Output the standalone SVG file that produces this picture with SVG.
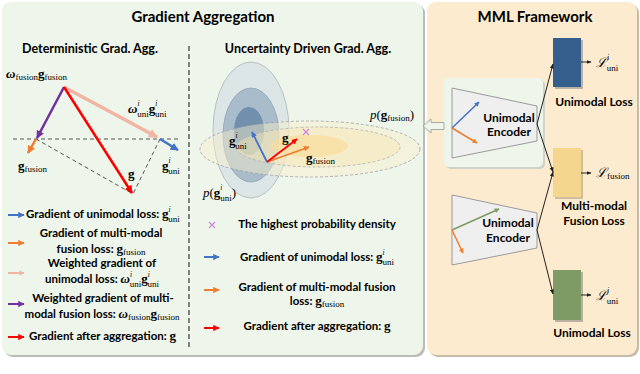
<svg xmlns="http://www.w3.org/2000/svg" width="640" height="374" viewBox="0 0 640 374">
<style>
.t{font-family:Lato,'Liberation Sans',sans-serif;font-weight:700;fill:#000}
.h1{font-size:15px}
.h2{font-size:12.5px}
.lg{font-size:11.5px}
.rl{font-size:12px}
.m{font-family:'Liberation Serif',serif;fill:#000}
.mb{font-family:'Liberation Serif',serif;font-weight:700;font-size:13px}
.mw{font-family:'Liberation Serif',serif;font-weight:700;font-style:italic;font-size:13px}
.sup{font-family:'Liberation Serif',serif;font-style:italic;font-weight:400;font-size:7.5px}
.sub{font-family:'Liberation Serif',serif;font-weight:400;font-size:9px}
.cal{font-family:'DejaVu Serif','Liberation Serif',serif;font-style:italic;font-weight:400;font-size:13px}
.dash{stroke:#555;stroke-width:1;stroke-dasharray:4 3;fill:none}
.trap{fill:#efefef;stroke:#9a9a9a;stroke-width:1}
.blk{stroke:#222;stroke-width:1;fill:none}
</style>
<defs>
<marker id="mBlue" viewBox="0 0 10 10" refX="9" refY="5" markerWidth="3.2" markerHeight="3.2" orient="auto"><path d="M0,0 L10,5 L0,10 z" fill="#4472c4"/></marker>
<marker id="mOrange" viewBox="0 0 10 10" refX="9" refY="5" markerWidth="3.2" markerHeight="3.2" orient="auto"><path d="M0,0 L10,5 L0,10 z" fill="#ed7d31"/></marker>
<marker id="mRed" viewBox="0 0 10 10" refX="9" refY="5" markerWidth="3.2" markerHeight="3.2" orient="auto"><path d="M0,0 L10,5 L0,10 z" fill="#ff0000"/></marker>
<marker id="mPurple" viewBox="0 0 10 10" refX="9" refY="5" markerWidth="3.2" markerHeight="3.2" orient="auto"><path d="M0,0 L10,5 L0,10 z" fill="#7030a0"/></marker>
<marker id="mPink" viewBox="0 0 10 10" refX="9" refY="5" markerWidth="2.6" markerHeight="2.6" orient="auto"><path d="M0,0 L10,5 L0,10 z" fill="#f4b4a4"/></marker>
<marker id="mGreen" viewBox="0 0 10 10" refX="9" refY="5" markerWidth="3.2" markerHeight="3.2" orient="auto"><path d="M0,0 L10,5 L0,10 z" fill="#7f9a65"/></marker>
<marker id="mBlk" viewBox="0 0 10 10" refX="9" refY="5" markerWidth="5" markerHeight="5" orient="auto"><path d="M0,1 L10,5 L0,9 z" fill="#222"/></marker>
</defs>

<!-- panels -->
<g id="panel-left">
<rect x="4" y="4" width="421" height="353" rx="9" fill="#b9bdb6"/>
<rect x="2" y="2" width="421" height="353" rx="9" fill="#eef5ea"/>
</g>
<g id="panel-right">
<rect x="429" y="4" width="210" height="353" rx="9" fill="#c6bba9"/>
<rect x="427" y="2" width="210" height="353" rx="9" fill="#fdebcf"/>
</g>

<text class="t h1" x="203" y="22" text-anchor="middle">Gradient Aggregation</text>
<text class="t h1" x="535" y="22" text-anchor="middle">MML Framework</text>
<text class="t h2" x="90" y="53" text-anchor="middle">Deterministic Grad. Agg.</text>
<text class="t h2" x="308" y="53" text-anchor="middle">Uncertainty Driven Grad. Agg.</text>

<line x1="189" y1="46" x2="189" y2="350" stroke="#333" stroke-width="1.2" stroke-dasharray="5 3"/>

<!-- deterministic diagram -->
<g id="det-diagram">
<line class="dash" x1="13" y1="139" x2="181" y2="139"/>
<line class="dash" x1="36" y1="139" x2="133" y2="194"/>
<line class="dash" x1="160" y1="139" x2="133" y2="194"/>
<line x1="64" y1="87" x2="157" y2="137" stroke="#f4b4a4" stroke-width="3.5" marker-end="url(#mPink)"/>
<line x1="64" y1="87" x2="37" y2="138" stroke="#7030a0" stroke-width="2.5" marker-end="url(#mPurple)"/>
<line x1="36" y1="139" x2="28" y2="153" stroke="#ed7d31" stroke-width="2.5" marker-end="url(#mOrange)"/>
<line x1="160" y1="139" x2="178" y2="150" stroke="#4472c4" stroke-width="2.5" marker-end="url(#mBlue)"/>
<line x1="64" y1="87" x2="132" y2="193" stroke="#ff0000" stroke-width="2.5" marker-end="url(#mRed)"/>
<text x="6" y="78"><tspan class="mw">ω</tspan><tspan class="sub" dy="2">fusion</tspan><tspan class="mb" dy="-2">g</tspan><tspan class="sub" dy="2">fusion</tspan></text>
<text x="128" y="113"><tspan class="mw">ω</tspan><tspan class="sup" dy="-7">i</tspan><tspan class="sub" dx="-2.3" dy="10.5">uni</tspan><tspan class="mb" dy="-3.5">g</tspan><tspan class="sup" dy="-7">i</tspan><tspan class="sub" dx="-2.3" dy="10.5">uni</tspan></text>
<text x="18" y="170"><tspan class="mb">g</tspan><tspan class="sub" dy="2">fusion</tspan></text>
<text x="162" y="170"><tspan class="mb">g</tspan><tspan class="sup" dy="-7">i</tspan><tspan class="sub" dx="-2.3" dy="10.5">uni</tspan></text>
<text x="128" y="178" class="mb">g</text>
</g>

<!-- deterministic legend -->
<g id="det-legend">
<line x1="8" y1="215" x2="24" y2="215" stroke="#4472c4" stroke-width="2" marker-end="url(#mBlue)"/>
<text class="t lg" x="26" y="218">Gradient of unimodal loss: <tspan class="mb" font-size="12">g</tspan><tspan class="sup" dy="-6.5">i</tspan><tspan class="sub" dx="-2.3" dy="10">uni</tspan></text>
<line x1="8" y1="243" x2="24" y2="243" stroke="#ed7d31" stroke-width="2" marker-end="url(#mOrange)"/>
<text class="t lg" x="101" y="237" text-anchor="middle">Gradient of multi-modal</text>
<text class="t lg" x="101" y="253" text-anchor="middle">fusion loss: <tspan class="mb" font-size="12">g</tspan><tspan class="sub" dy="2">fusion</tspan></text>
<line x1="8" y1="273" x2="24" y2="273" stroke="#f4b4a4" stroke-width="2" marker-end="url(#mPink)"/>
<text class="t lg" x="102" y="267" text-anchor="middle">Weighted gradient of</text>
<text class="t lg" x="102" y="283" text-anchor="middle">unimodal loss: <tspan class="mw" font-size="12">ω</tspan><tspan class="sup" dy="-6.5">i</tspan><tspan class="sub" dx="-2.3" dy="10">uni</tspan><tspan class="mb" font-size="12" dy="-3.5">g</tspan><tspan class="sup" dy="-6.5">i</tspan><tspan class="sub" dx="-2.3" dy="10">uni</tspan></text>
<line x1="8" y1="304" x2="24" y2="304" stroke="#7030a0" stroke-width="2" marker-end="url(#mPurple)"/>
<text class="t lg" x="103" y="302" text-anchor="middle">Weighted gradient of multi-</text>
<text class="t lg" x="102" y="318" text-anchor="middle">modal fusion loss: <tspan class="mw" font-size="12">ω</tspan><tspan class="sub" dy="2">fusion</tspan><tspan class="mb" font-size="12" dy="-2">g</tspan><tspan class="sub" dy="2">fusion</tspan></text>
<line x1="8" y1="337" x2="24" y2="337" stroke="#ff0000" stroke-width="2" marker-end="url(#mRed)"/>
<text class="t lg" x="29" y="340">Gradient after aggregation: <tspan class="mb" font-size="12">g</tspan></text>
</g>

<!-- uncertainty diagram -->
<g id="unc-diagram">
<ellipse cx="251" cy="130" rx="38" ry="68" fill="#dce6e6" stroke="#aab6b8" stroke-width="0.8"/>
<ellipse cx="251" cy="135" rx="28" ry="47" fill="#a8bccb" stroke="#8fa3b2" stroke-width="0.8"/>
<ellipse cx="249" cy="131" rx="15" ry="24" fill="#7190ad"/>
<ellipse cx="310" cy="149" rx="110" ry="28" fill="#f8efcc" fill-opacity="0.45" stroke="#a0a0a0" stroke-width="0.8" stroke-dasharray="3 2"/>
<ellipse cx="318" cy="147" rx="82" ry="20" fill="#f8e6b4" fill-opacity="0.45" stroke="#b0b0b0" stroke-width="0.8" stroke-dasharray="3 2"/>
<ellipse cx="309" cy="146" rx="39" ry="11" fill="#fbdc98" fill-opacity="0.65"/>
<line x1="267" y1="162" x2="252" y2="132" stroke="#4472c4" stroke-width="1.8" marker-end="url(#mBlue)"/>
<line x1="267" y1="162" x2="309" y2="147" stroke="#ed7d31" stroke-width="1.8" marker-end="url(#mOrange)"/>
<line x1="267" y1="162" x2="297" y2="139" stroke="#ff0000" stroke-width="1.8" marker-end="url(#mRed)"/>
<path d="M303,129 L309,135 M309,129 L303,135" stroke="#cc88dd" stroke-width="1.2"/>
<text x="229" y="145"><tspan class="mb">g</tspan><tspan class="sup" dy="-7">i</tspan><tspan class="sub" dx="-2.3" dy="10.5">uni</tspan></text>
<text x="282" y="142" class="mb">g</text>
<text x="306" y="162"><tspan class="mb">g</tspan><tspan class="sub" dy="2">fusion</tspan></text>
<text x="370" y="119"><tspan class="m" font-style="italic" font-size="13">p</tspan><tspan class="m" font-size="13">(</tspan><tspan class="mb">g</tspan><tspan class="sub" dy="2">fusion</tspan><tspan class="m" font-size="13" dy="-2">)</tspan></text>
<text x="203" y="197"><tspan class="m" font-style="italic" font-size="13">p</tspan><tspan class="m" font-size="13">(</tspan><tspan class="mb">g</tspan><tspan class="sup" dy="-7">i</tspan><tspan class="sub" dx="-2.3" dy="10.5">uni</tspan><tspan class="m" font-size="13" dy="-3.5">)</tspan></text>
</g>

<!-- uncertainty legend -->
<g id="unc-legend">
<path d="M209,222 L215,228 M215,222 L209,228" stroke="#cc88dd" stroke-width="1.2"/>
<text class="t lg" x="317" y="228" text-anchor="middle">The highest probability density</text>
<line x1="204" y1="257" x2="219" y2="257" stroke="#4472c4" stroke-width="2" marker-end="url(#mBlue)"/>
<text class="t lg" x="317" y="261" text-anchor="middle">Gradient of unimodal loss: <tspan class="mb" font-size="12">g</tspan><tspan class="sup" dy="-6.5">i</tspan><tspan class="sub" dx="-2.3" dy="10">uni</tspan></text>
<line x1="204" y1="290" x2="219" y2="290" stroke="#ed7d31" stroke-width="2" marker-end="url(#mOrange)"/>
<text class="t lg" x="317" y="291" text-anchor="middle">Gradient of multi-modal fusion</text>
<text class="t lg" x="317" y="305" text-anchor="middle">loss: <tspan class="mb" font-size="12">g</tspan><tspan class="sub" dy="2">fusion</tspan></text>
<line x1="204" y1="328" x2="219" y2="328" stroke="#ff0000" stroke-width="2" marker-end="url(#mRed)"/>
<text class="t lg" x="317" y="330" text-anchor="middle">Gradient after aggregation: <tspan class="mb" font-size="12">g</tspan></text>
</g>

<!-- MML framework -->
<g id="encoder-1">
<rect x="446" y="80" width="99" height="89" rx="5" fill="#cfd3cb"/>
<rect x="444" y="78" width="99" height="89" rx="5" fill="#eef5ea"/>
<polygon class="trap" points="452,88 537,106 537,141 452,158"/>
<line x1="452" y1="128" x2="479" y2="102" stroke="#4472c4" stroke-width="1.5" marker-end="url(#mBlue)"/>
<line x1="452" y1="128" x2="477" y2="143" stroke="#ed7d31" stroke-width="1.5" marker-end="url(#mOrange)"/>
<text class="t rl" x="509" y="122" text-anchor="middle">Unimodal</text>
<text class="t rl" x="509" y="136" text-anchor="middle">Encoder</text>
</g>
<g id="encoder-2">
<polygon class="trap" points="452,195 537,213 537,248 452,265"/>
<line x1="452" y1="230" x2="499" y2="209" stroke="#7f9a65" stroke-width="1.5" marker-end="url(#mGreen)"/>
<line x1="452" y1="230" x2="463" y2="253" stroke="#ed7d31" stroke-width="1.5" marker-end="url(#mOrange)"/>
<text class="t rl" x="508" y="227" text-anchor="middle">Unimodal</text>
<text class="t rl" x="508" y="242" text-anchor="middle">Encoder</text>
</g>
<g id="loss-uni-i">
<rect x="555" y="40" width="28" height="49" fill="#b9b2a3"/>
<rect x="553" y="38" width="28" height="49" fill="#355e8c"/>
<text class="t rl" x="594" y="106" text-anchor="middle">Unimodal Loss</text>
<text x="596" y="67"><tspan class="cal">ℒ</tspan><tspan class="sup" dy="-7">i</tspan><tspan class="sub" dx="-2.3" dy="10.5">uni</tspan></text>
</g>
<g id="loss-fusion">
<rect x="555" y="150" width="28" height="49" fill="#cdbf9f"/>
<rect x="553" y="148" width="28" height="49" fill="#f5d68e"/>
<text class="t rl" x="594" y="210" text-anchor="middle">Multi-modal</text>
<text class="t rl" x="594" y="225" text-anchor="middle">Fusion Loss</text>
<text x="596" y="177"><tspan class="cal">ℒ</tspan><tspan class="sub" dy="2">fusion</tspan></text>
</g>
<g id="loss-uni-j">
<rect x="555" y="272" width="28" height="50" fill="#b9b2a3"/>
<rect x="553" y="270" width="28" height="50" fill="#7e9a65"/>
<text class="t rl" x="592" y="337" text-anchor="middle">Unimodal Loss</text>
<text x="596" y="300"><tspan class="cal">ℒ</tspan><tspan class="sup" dy="-7">j</tspan><tspan class="sub" dx="-2.3" dy="10.5">uni</tspan></text>
</g>

<g id="connectors">
<line class="blk" x1="537" y1="124" x2="553" y2="64" marker-end="url(#mBlk)"/>
<line class="blk" x1="537" y1="124" x2="553" y2="172" marker-end="url(#mBlk)"/>
<line class="blk" x1="537" y1="230" x2="553" y2="172" marker-end="url(#mBlk)"/>
<line class="blk" x1="537" y1="230" x2="553" y2="294" marker-end="url(#mBlk)"/>
<line class="blk" x1="581" y1="62" x2="591" y2="62" marker-end="url(#mBlk)"/>
<line class="blk" x1="581" y1="173" x2="591" y2="173" marker-end="url(#mBlk)"/>
<line class="blk" x1="581" y1="295" x2="591" y2="295" marker-end="url(#mBlk)"/>
<polygon points="423,126 431,119 431,122.5 444,122.5 444,129.5 431,129.5 431,133" fill="#eef5ea" stroke="#a8aaa4" stroke-width="1"/>
</g>
</svg>
